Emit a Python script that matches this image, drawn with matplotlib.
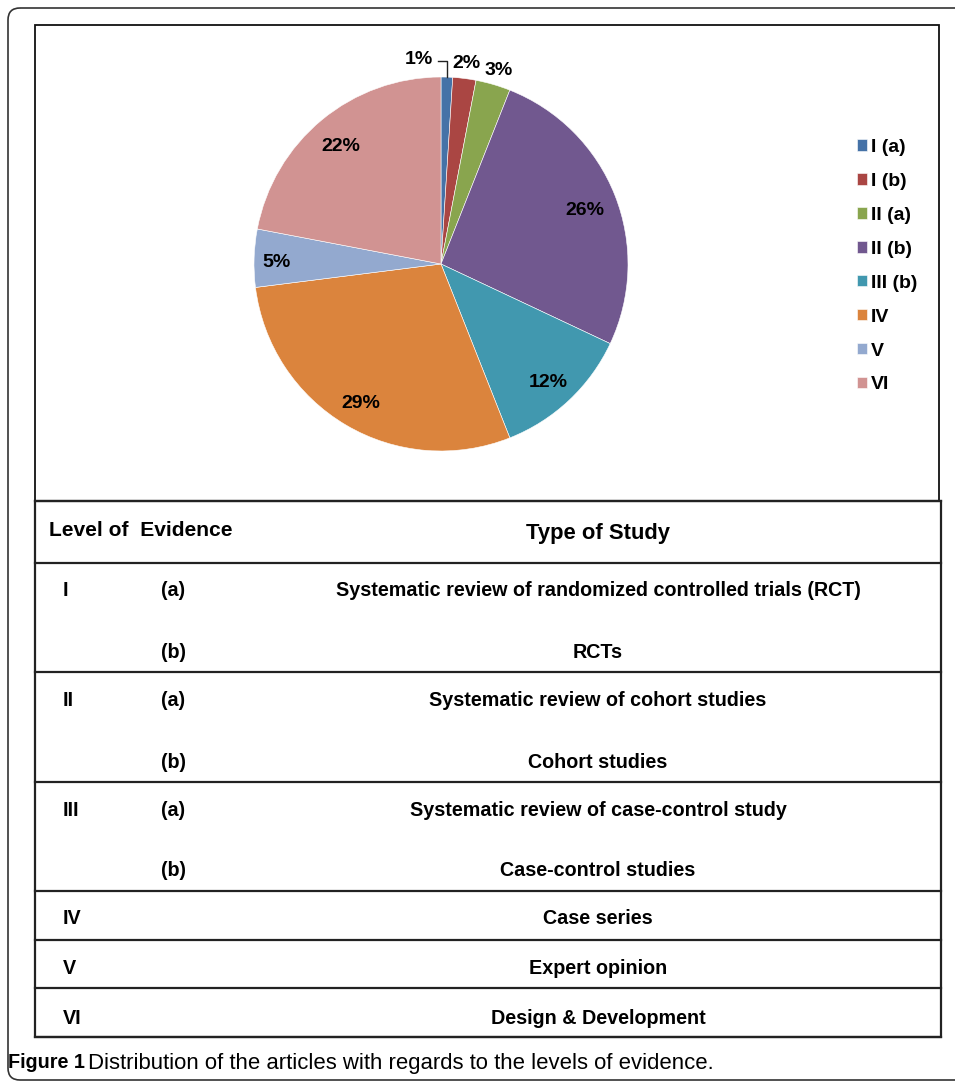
import numpy as np
import matplotlib
matplotlib.use('Agg')
import matplotlib.pyplot as plt
from matplotlib.patches import Rectangle, FancyBboxPatch

plt.rcParams['font.family'] = ['Liberation Sans', 'DejaVu Sans']

# pie data
levels = ['I (a)', 'I (b)', 'II (a)', 'II (b)', 'III (b)', 'IV', 'V', 'VI']
shares = [1, 2, 3, 26, 12, 29, 5, 22]
colors = ['#4572A7', '#AA4643', '#89A54E', '#71588F', '#4198AF', '#DB843D', '#93A9CF', '#D19392']
label_dist = [1.11, 1.10, 1.10, 0.83, 0.84, 0.84, 0.88, 0.84]

# table contents
table_levels = ['I', '', 'II', '', 'III', '', 'IV', 'V', 'VI']
table_sub = ['(a)', '(b)', '(a)', '(b)', '(a)', '(b)', '', '', '']
table_types = ['Systematic review of randomized controlled trials (RCT)', 'RCTs',
               'Systematic review of cohort studies', 'Cohort studies',
               'Systematic review of case-control study', 'Case-control studies',
               'Case series', 'Expert opinion', 'Design & Development']
row_y = [591, 652, 701, 762, 810, 870, 919, 968, 1018]
row_lines = [501, 563, 672, 782, 891, 940, 988, 1037]

W, H = 955, 1081
fig = plt.figure(figsize=(W / 100, H / 100), dpi=100)
ax = fig.add_axes([0, 0, 1, 1])
ax.set_xlim(0, W)
ax.set_ylim(H, 0)
ax.axis('off')

# outer rounded frame
ax.add_patch(FancyBboxPatch((8, 8), 980, 1072, boxstyle='round,pad=0,rounding_size=12',
                            fc='none', ec='#333333', lw=1.2))
# chart box
ax.add_patch(Rectangle((35, 25), 904, 476, fc='none', ec='#111111', lw=1.3))
# table
ax.add_patch(Rectangle((35, 501), 906, 536, fc='none', ec='#222222', lw=1.6))
for y in row_lines:
    ax.plot([35, 941], [y, y], color='#222222', lw=1.6)

tfs = 14.2
ax.text(49, 531, 'Level of  Evidence', fontsize=15.1, fontweight='bold', va='center')
ax.text(598, 534, 'Type of Study', fontsize=15.8, fontweight='bold', va='center', ha='center')
for lv, sub, typ, y in zip(table_levels, table_sub, table_types, row_y):
    ax.text(63, y, lv, fontsize=tfs, fontweight='bold', va='center')
    ax.text(173, y, sub, fontsize=tfs, fontweight='bold', va='center', ha='center')
    ax.text(598, y, typ, fontsize=tfs, fontweight='bold', va='center', ha='center')

# caption
ax.text(8, 1063, 'Figure 1', fontsize=14.2, fontweight='bold', va='center')
ax.text(88, 1063, 'Distribution of the articles with regards to the levels of evidence.',
        fontsize=15.9, va='center')

# pie
cx, cy, r = 441, 264, 187
pax = fig.add_axes([(cx - r) / W, 1 - (cy + r) / H, 2 * r / W, 2 * r / H])
wedges, _ = pax.pie(shares, colors=colors, startangle=90, counterclock=False,
                    wedgeprops=dict(edgecolor='white', linewidth=0.4))
pax.set_xlim(-1, 1)
pax.set_ylim(-1, 1)
pax.axis('off')

pfs = 14
for i, (w, d) in enumerate(zip(wedges, label_dist)):
    mid = np.deg2rad((w.theta1 + w.theta2) / 2)
    x, y = d * np.cos(mid), d * np.sin(mid)
    if i == 0:
        # leader line for the smallest slice
        ex, ey = np.cos(mid), np.sin(mid)
        pax.plot([-0.016, ex, ex], [1.086, 1.086, ey], color='#222222', lw=1, clip_on=False)
        pax.annotate(f'{shares[i]}%', (-0.043, 1.112), xytext=(0, -3), textcoords='offset pixels',
                     fontsize=pfs, fontweight='bold', ha='right', va='center',
                     annotation_clip=False)
    else:
        pax.annotate(f'{shares[i]}%', (x, y), xytext=(0, -4), textcoords='offset pixels',
                     fontsize=pfs, fontweight='bold', ha='center', va='center',
                     annotation_clip=False)

leg = fig.legend(wedges, levels, loc='upper left', bbox_to_anchor=(857 / W, 1 - 139 / H),
                 frameon=False, prop=dict(size=14, weight='bold'),
                 handlelength=0.52, handleheight=0.52, handletextpad=0.2,
                 labelspacing=0.87, borderpad=0, borderaxespad=0)

fig.savefig('out.png', dpi=100)
